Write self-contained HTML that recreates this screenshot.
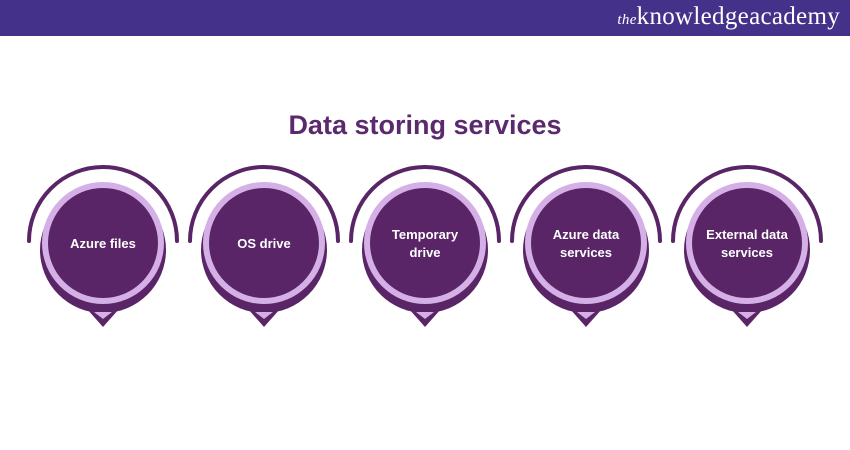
<!DOCTYPE html>
<html><head><style>
body{margin:0;width:850px;height:450px;background:#fff;overflow:hidden;font-family:"Liberation Sans",sans-serif}
.hdr{position:absolute;left:0;top:0;width:850px;height:36px;background:#44318a}
.logo{position:absolute;right:10px;top:3px;color:#fff;font-family:"Liberation Serif",serif;font-size:25px;letter-spacing:0.3px}
.logo i{font-size:15px}
h1{position:absolute;top:110px;left:0;width:850px;text-align:center;margin:0;font-size:27px;color:#5b2a6e;font-weight:bold}
</style></head><body>
<div class="hdr"><div class="logo"><i>the</i>knowledge<b style="font-weight:normal">academy</b></div></div>
<h1>Data storing services</h1>
<svg width="850" height="450" style="position:absolute;left:0;top:0">
<defs>
<g id="n">
<path d="M-74,242 A74,74 0 0 1 74,242" fill="none" stroke="#5a2566" stroke-width="4" stroke-linecap="round" transform="translate(0,-1)"/>
<circle cx="0" cy="250" r="63" fill="#5a2566"/>
<polygon points="-24,300 24,300 0,327" fill="#5a2566"/>
<polygon points="-9,312 9,312 0,319" fill="#d4b0e6"/>
<circle cx="0" cy="243" r="61" fill="#d4b0e6"/>
<circle cx="0" cy="243" r="55" fill="#5a2566"/>
</g>
</defs>
<use href="#n" x="103"/><use href="#n" x="264"/><use href="#n" x="425"/><use href="#n" x="586"/><use href="#n" x="747"/>
<g fill="#fff" font-size="13" font-weight="bold" text-anchor="middle">
<text x="103" y="248">Azure files</text>
<text x="264" y="248">OS drive</text>
<text x="425" y="239">Temporary</text><text x="425" y="257">drive</text>
<text x="586" y="239">Azure data</text><text x="586" y="257">services</text>
<text x="747" y="239">External data</text><text x="747" y="257">services</text>
</g>
</svg>
</body></html>
